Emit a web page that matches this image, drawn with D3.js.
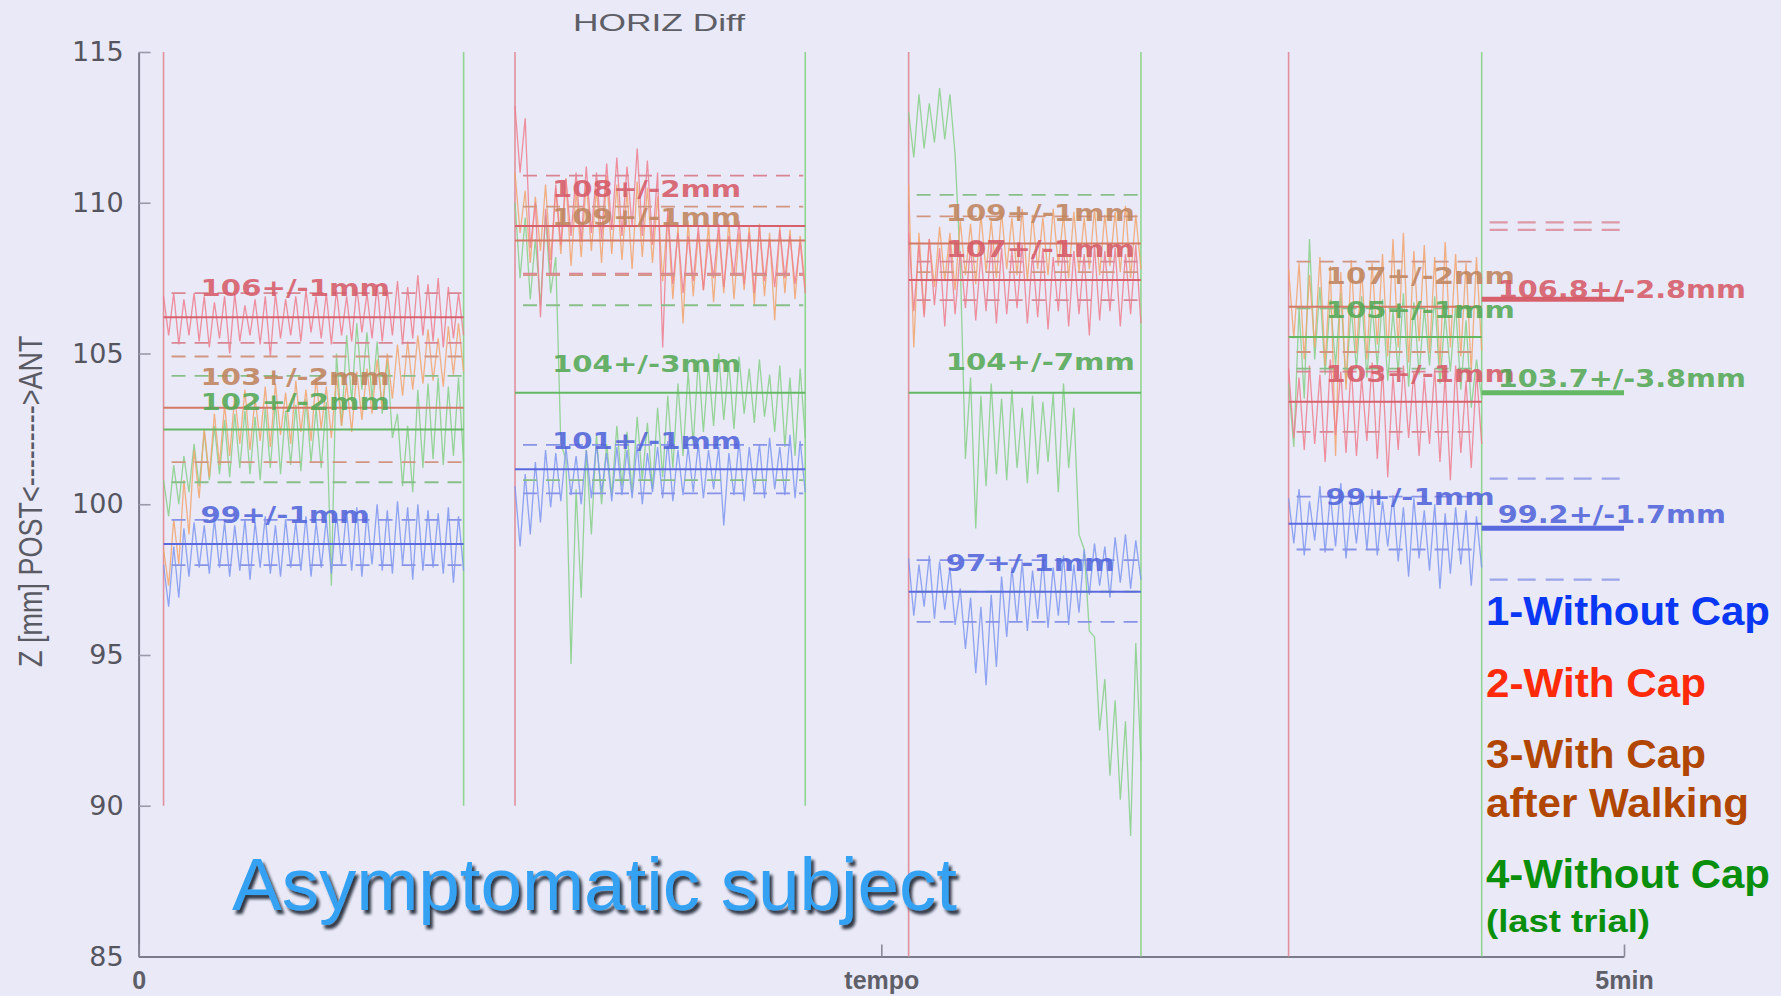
<!DOCTYPE html>
<html>
<head>
<meta charset="utf-8">
<script src="https://cdn.jsdelivr.net/npm/d3@7"></script>
<style>
  html, body { margin: 0; padding: 0; background: #e9e9f8; }
  svg { display: block; }
</style>
</head>
<body>
<svg id="chart" width="1781" height="996"></svg>
<script>
// ---------------- data ----------------
// series order: 0 = 1-Without Cap, 1 = 2-With Cap, 2 = 3-With Cap after Walking, 3 = 4-Without Cap (last trial)
const seriesNames = ["1-Without Cap", "2-With Cap", "3-With Cap after Walking", "4-Without Cap (last trial)"];

const yTickValues = [85, 90, 95, 100, 105, 110, 115];
const xTickValues = [0, 2.5, 5];
const xTickLabels = ["0", "tempo", "5min"];

// trial windows (minutes) and the lower end of each window's marker lines (mm)
const panelStart = [0.084, 1.267, 2.592, 3.871];
const panelEnd   = [1.094, 2.244, 3.374, 4.521];
const panelFloor = [90, 90, 85, 85];

// recorded position, peaks (Hi) and troughs (Lo) of each oscillation, mm
const p1BlueHi = [98.0, 98.6, 99.2, 99.4, 99.3, 99.5, 99.4, 99.3, 99.5, 99.4, 99.6, 99.3, 99.5, 99.4, 99.6, 99.4, 99.5, 99.7, 99.8, 99.9, 99.7, 100.0, 99.8, 100.1, 99.9, 100.0, 99.8, 99.7, 99.9, 99.6];
const p1BlueLo = [96.6, 96.9, 97.6, 97.9, 97.7, 97.9, 97.6, 97.8, 97.5, 97.9, 97.7, 97.6, 97.9, 97.8, 97.6, 97.9, 97.7, 98.0, 97.8, 97.6, 98.0, 97.8, 97.7, 98.0, 97.5, 97.8, 97.9, 97.7, 97.4, 97.8];
const p1RedHi = [106.9, 107.0, 106.8, 107.0, 106.9, 106.7, 106.9, 107.0, 106.6, 106.8, 106.9, 107.0, 106.8, 106.9, 107.1, 106.9, 107.0, 107.1, 106.9, 107.2, 107.0, 107.3, 107.1, 107.4, 107.2, 107.6, 107.3, 107.5, 107.2, 107.0];
const p1RedLo = [105.6, 105.3, 105.6, 105.4, 105.2, 105.5, 105.0, 105.4, 105.6, 105.3, 104.9, 105.5, 105.6, 105.4, 105.7, 105.5, 105.3, 105.6, 105.4, 105.7, 105.5, 105.4, 105.6, 105.3, 105.5, 105.6, 105.4, 105.2, 105.5, 105.6];
const p1OrangeHi = [98.5, 99.5, 100.8, 101.8, 102.5, 103.0, 103.3, 103.6, 103.8, 103.5, 103.9, 104.0, 103.7, 104.1, 103.8, 104.2, 103.9, 104.3, 104.0, 104.4, 104.5, 104.8, 105.0, 105.3, 105.4, 105.6, 105.8, 105.5, 105.9, 106.0];
const p1OrangeLo = [97.3, 98.0, 99.0, 100.2, 100.9, 101.3, 101.6, 102.0, 101.8, 102.1, 101.9, 102.3, 102.0, 102.4, 102.1, 102.5, 102.2, 102.6, 102.4, 102.8, 103.0, 103.2, 103.5, 103.6, 103.8, 104.0, 104.1, 103.9, 104.3, 104.4];
const p1GreenHi = [100.8, 101.3, 101.6, 102.0, 102.4, 102.6, 102.8, 103.0, 103.1, 102.9, 103.2, 103.4, 103.1, 103.3, 103.5, 103.2, 103.4, 105.0, 105.6, 106.0, 105.7, 105.4, 104.8, 103.0, 102.6, 103.8, 104.0, 104.2, 103.9, 104.2];
const p1GreenLo = [99.6, 100.0, 100.4, 100.6, 100.8, 101.0, 100.9, 101.2, 101.0, 100.8, 101.2, 101.0, 101.3, 101.1, 101.4, 101.2, 97.3, 102.6, 103.4, 103.8, 103.5, 103.0, 102.2, 100.6, 100.4, 101.2, 101.5, 101.3, 101.6, 101.4];

const p2BlueHi = [100.6, 101.0, 101.4, 101.8, 101.7, 101.9, 101.6, 101.8, 102.0, 101.7, 101.9, 101.8, 102.0, 101.7, 101.9, 102.1, 101.8, 101.9, 102.0, 101.8, 101.9, 101.7, 102.1, 101.9, 102.0, 102.2, 101.9, 102.3, 102.1];
const p2BlueLo = [98.6, 99.0, 99.4, 99.9, 100.1, 100.3, 100.0, 100.2, 100.4, 100.1, 100.3, 100.2, 100.0, 100.4, 100.2, 100.1, 100.3, 100.4, 100.2, 100.5, 99.3, 100.3, 100.1, 100.4, 100.2, 100.5, 100.3, 100.2, 100.4];
const p2RedHi = [113.2, 112.8, 110.0, 109.8, 110.6, 110.8, 111.0, 111.2, 111.0, 111.3, 111.5, 111.2, 111.8, 111.4, 111.0, 109.8, 109.0, 108.9, 109.2, 108.8, 109.3, 108.9, 109.4, 109.0, 109.2, 108.8, 109.1, 108.9, 108.7];
const p2RedLo = [111.0, 108.5, 106.2, 107.6, 108.6, 108.9, 108.7, 109.0, 108.8, 109.1, 108.9, 109.2, 108.9, 108.6, 105.2, 107.3, 107.0, 107.4, 107.1, 107.5, 107.2, 107.6, 107.3, 107.0, 107.4, 107.2, 107.5, 107.3, 107.0];
const p2OrangeHi = [111.0, 110.4, 110.2, 110.6, 110.5, 110.8, 110.4, 110.7, 110.5, 110.9, 110.6, 110.4, 110.7, 110.5, 110.2, 109.6, 109.2, 109.4, 109.0, 109.3, 109.1, 109.4, 109.0, 109.2, 109.3, 109.0, 109.2, 109.1, 108.9];
const p2OrangeLo = [109.0, 108.0, 108.4, 108.1, 108.3, 107.9, 108.2, 108.4, 108.0, 108.3, 108.1, 107.8, 108.2, 108.0, 107.4, 106.8, 106.0, 106.9, 107.1, 106.7, 107.0, 106.8, 107.1, 106.6, 106.9, 106.1, 107.0, 106.8, 107.2];
const p2GreenHi = [110.0, 109.5, 108.8, 109.6, 108.2, 101.5, 100.5, 101.8, 102.3, 102.0, 102.6, 102.4, 102.9, 102.7, 103.2, 103.6, 104.0, 104.4, 104.8, 104.6, 105.0, 104.7, 104.9, 104.5, 104.8, 104.3, 104.6, 104.2, 104.5];
const p2GreenLo = [107.5, 106.8, 106.6, 107.0, 102.0, 94.7, 96.9, 99.0, 100.0, 100.3, 100.6, 100.4, 100.8, 100.5, 100.9, 101.2, 101.6, 102.0, 102.4, 102.6, 102.8, 102.5, 103.0, 102.7, 102.9, 102.4, 101.9, 101.6, 102.2];

const p3BlueHi = [98.2, 98.0, 98.3, 98.1, 97.9, 97.2, 96.9, 96.6, 97.0, 97.6, 97.9, 98.1, 97.8, 98.2, 97.9, 98.3, 98.0, 98.5, 98.7, 98.6, 98.9, 99.0, 98.8];
const p3BlueLo = [96.3, 96.6, 96.2, 96.5, 96.0, 95.2, 94.4, 94.0, 94.6, 95.6, 96.1, 95.8, 96.2, 95.9, 96.3, 96.0, 96.4, 97.0, 97.3, 96.9, 97.4, 97.2, 97.5];
const p3RedHi = [109.0, 108.6, 108.8, 108.5, 108.7, 108.4, 108.6, 108.3, 108.7, 108.5, 108.4, 108.6, 108.3, 108.5, 108.2, 108.6, 108.4, 108.3, 108.6, 108.4, 108.5, 108.3, 108.6];
const p3RedLo = [106.4, 106.2, 106.6, 105.9, 106.3, 106.5, 106.1, 106.4, 106.0, 106.3, 106.5, 106.0, 106.2, 105.8, 106.4, 105.9, 106.3, 105.6, 106.1, 106.4, 105.9, 106.3, 106.0];
const p3OrangeHi = [110.6, 109.0, 108.8, 109.2, 109.0, 109.4, 109.3, 109.6, 109.4, 109.7, 109.5, 109.8, 109.6, 109.5, 109.8, 109.6, 109.7, 109.5, 109.8, 109.6, 109.7, 109.9, 109.6];
const p3OrangeLo = [105.2, 106.3, 107.2, 107.4, 107.1, 107.6, 107.3, 107.7, 107.5, 107.8, 107.6, 107.4, 107.8, 107.6, 107.9, 107.5, 107.7, 107.8, 107.6, 107.9, 107.7, 107.5, 107.8];
const p3GreenHi = [113.0, 113.6, 113.3, 113.8, 113.6, 108.0, 104.2, 103.6, 104.0, 103.5, 103.8, 103.2, 103.6, 103.4, 103.7, 104.0, 103.2, 98.5, 95.6, 94.2, 93.5, 92.8, 95.4];
const p3GreenLo = [111.5, 111.8, 112.0, 112.1, 111.6, 101.5, 99.2, 100.6, 101.0, 100.8, 101.2, 100.7, 101.0, 101.4, 100.4, 101.2, 99.0, 95.8, 92.5, 91.0, 90.2, 89.0, 91.5];

const p4BlueHi = [100.2, 100.5, 100.1, 100.6, 100.3, 100.7, 100.2, 100.4, 100.5, 100.1, 100.3, 99.9, 100.2, 99.8, 100.0, 99.7, 99.9, 99.8, 99.6];
const p4BlueLo = [98.7, 98.3, 98.8, 98.4, 98.6, 98.2, 98.7, 98.5, 98.3, 98.6, 98.1, 97.6, 98.2, 97.8, 97.2, 97.7, 98.0, 97.3, 97.9];
const p4RedHi = [104.5, 104.2, 104.6, 104.3, 104.8, 104.4, 104.6, 104.2, 104.7, 104.5, 104.3, 104.6, 104.4, 104.2, 104.5, 104.3, 104.6, 104.1, 104.4];
const p4RedLo = [102.2, 101.8, 102.0, 101.4, 102.3, 101.7, 101.6, 102.1, 101.5, 100.9, 101.8, 102.2, 101.6, 102.0, 101.4, 100.8, 101.7, 101.2, 102.0];
const p4OrangeHi = [107.8, 108.0, 107.6, 108.2, 107.9, 107.7, 108.1, 107.8, 108.0, 108.3, 108.8, 109.0, 108.4, 108.6, 108.2, 108.7, 108.3, 108.0, 108.2];
const p4OrangeLo = [105.5, 104.8, 105.2, 104.6, 101.6, 103.8, 105.0, 104.8, 105.3, 104.9, 105.2, 104.7, 105.4, 105.0, 104.6, 105.2, 104.9, 104.4, 105.1];
const p4GreenHi = [104.0, 106.5, 108.8, 107.2, 106.8, 107.0, 106.5, 106.9, 106.6, 106.8, 106.4, 107.0, 106.7, 106.5, 106.9, 106.3, 106.6, 106.1, 104.8];
const p4GreenLo = [101.9, 103.5, 104.8, 104.3, 104.6, 104.0, 104.5, 104.2, 104.6, 104.1, 104.4, 103.9, 104.3, 104.6, 104.0, 104.4, 103.8, 103.2, 103.5];

// trial means and the dashed spread levels (mm), order: blue, red, orange, green
const meanP1 = [98.68, 106.2, 103.2, 102.48];
const upperP1 = [99.48, 107.0, 104.9, 104.26];
const lowerP1 = [97.98, 105.35, 101.4, 100.73];
const meanP2 = [101.16, 109.23, 108.75, 103.7];
const upperP2 = [101.97, 110.9, 109.87, 106.6];
const lowerP2 = [100.36, 107.65, 107.6, 100.8];
const meanP3 = [97.1, 107.44, 108.65, 103.7];
const upperP3 = [98.15, 108.05, 109.55, 110.26];
const lowerP3 = [96.1, 106.77, 107.7, 97.1];
const meanP4 = [99.35, 103.4, 106.55, 105.55];
const upperP4 = [100.25, 104.4, 108.05, 106.5];
const lowerP4 = [98.5, 102.4, 105.05, 104.5];

// annotation text and the level (mm) of its baseline
const labelsP1 = ["99+/-1mm", "106+/-1mm", "103+/-2mm", "102+/-2mm"];
const labelLevelP1 = [99.39, 106.91, 103.96, 103.13];
const labelsP2 = ["101+/-1mm", "108+/-2mm", "109+/-1mm", "104+/-3mm"];
const labelLevelP2 = [101.83, 110.19, 109.26, 104.39];
const labelsP3 = ["97+/-1mm", "107+/-1mm", "109+/-1mm", "104+/-7mm"];
const labelLevelP3 = [97.77, 108.2, 109.41, 104.44];
const labelsP4 = ["99+/-1mm", "103+/-1mm", "107+/-2mm", "105+/-1mm"];
const labelLevelP4 = [99.98, 104.05, 107.32, 106.18];

// overall summary (series 1, 2, 4)
const summarySeries = [0, 1, 3];
const summaryMean = [99.2, 106.8, 103.7];
const summaryLabels = ["99.2+/-1.7mm", "106.8+/-2.8mm", "103.7+/-3.8mm"];
const summaryLabelLevel = [99.38, 106.84, 103.9];
const summaryDashLevel = [109.35, 109.1, 100.85, 97.5];
const summaryDashSeries = [1, 1, 0, 0];

// legend
const legendLines = [["1-Without Cap"], ["2-With Cap"], ["3-With Cap", "after Walking"], ["4-Without Cap", "(last trial)"]];

// ---------------- drawing ----------------
const svg = d3.select("#chart");
const x = d3.scaleLinear().domain([0, 5]).range([138.6, 1624]);
const y = d3.scaleLinear().domain([85, 115]).range([956.5, 52]);

const traceColor = ["#7c95f0", "#ee7e8d", "#f2a56c", "#86cf86"];
const meanColor  = ["#5a6ade", "#d6606c", "#d27a66", "#64b864"];
const dashColor  = ["#8793e6", "#d98592", "#d29680", "#88be88"];
const labelColor = ["#5164da", "#d65b67", "#c0845c", "#55a855"];
const legendColor = ["#0a37f3", "#ff2a0a", "#b04600", "#0a8f0c"];

const panels = [
  { hi: [p1BlueHi, p1RedHi, p1OrangeHi, p1GreenHi], lo: [p1BlueLo, p1RedLo, p1OrangeLo, p1GreenLo],
    mean: meanP1, up: upperP1, dn: lowerP1, labels: labelsP1, labelLevel: labelLevelP1 },
  { hi: [p2BlueHi, p2RedHi, p2OrangeHi, p2GreenHi], lo: [p2BlueLo, p2RedLo, p2OrangeLo, p2GreenLo],
    mean: meanP2, up: upperP2, dn: lowerP2, labels: labelsP2, labelLevel: labelLevelP2 },
  { hi: [p3BlueHi, p3RedHi, p3OrangeHi, p3GreenHi], lo: [p3BlueLo, p3RedLo, p3OrangeLo, p3GreenLo],
    mean: meanP3, up: upperP3, dn: lowerP3, labels: labelsP3, labelLevel: labelLevelP3 },
  { hi: [p4BlueHi, p4RedHi, p4OrangeHi, p4GreenHi], lo: [p4BlueLo, p4RedLo, p4OrangeLo, p4GreenLo],
    mean: meanP4, up: upperP4, dn: lowerP4, labels: labelsP4, labelLevel: labelLevelP4 }
].map((p, i) => Object.assign(p, { start: panelStart[i], end: panelEnd[i], floor: panelFloor[i] }));

const defs = svg.append("defs");
defs.append("filter").attr("id", "titleShadow")
  .attr("x", "-5%").attr("y", "-30%").attr("width", "112%").attr("height", "170%")
  .append("feDropShadow")
  .attr("dx", 3).attr("dy", 4).attr("stdDeviation", 1.6)
  .attr("flood-color", "#0d1526").attr("flood-opacity", 0.85);

svg.append("rect").attr("width", 1781).attr("height", 996).attr("fill", "#e9e9f8");

// axes
const gy = svg.append("g")
  .attr("transform", `translate(${x(0)},0)`)
  .call(d3.axisLeft(y).tickValues(yTickValues).tickSizeInner(-12).tickSizeOuter(0).tickPadding(15));
gy.attr("font-family", "'DejaVu Sans', sans-serif").attr("font-size", 27);
gy.select(".domain").attr("stroke", "#7b7b8b").attr("stroke-width", 2);
gy.selectAll(".tick line").attr("stroke", "#9a9aab").attr("stroke-width", 1.6);
gy.selectAll(".tick text").attr("fill", "#55555f");

const gx = svg.append("g")
  .attr("transform", `translate(0,${y(85)})`)
  .call(d3.axisBottom(x).tickValues(xTickValues).tickFormat((d, i) => xTickLabels[i])
    .tickSizeInner(-12).tickSizeOuter(0).tickPadding(15));
gx.attr("font-family", "'Liberation Sans', Arial, sans-serif").attr("font-size", 25).attr("font-weight", "bold");
gx.select(".domain").attr("stroke", "#7b7b8b").attr("stroke-width", 2);
gx.selectAll(".tick line").attr("stroke", "#8a8a9b").attr("stroke-width", 1.6);
gx.selectAll(".tick text").attr("fill", "#5f5f69");

// axis title and chart title
svg.append("text")
  .attr("transform", `translate(31,${y(100.1)}) rotate(-90) scale(1,1.2)`)
  .attr("text-anchor", "middle").attr("dy", "0.35em")
  .attr("font-family", "'Liberation Sans', Arial, sans-serif").attr("font-size", 27)
  .attr("fill", "#5a5a64")
  .text("Z [mm] POST<--------->ANT");

svg.append("text")
  .attr("x", 659).attr("y", 31).attr("text-anchor", "middle")
  .attr("font-family", "'Liberation Sans', Arial, sans-serif").attr("font-size", 24)
  .attr("textLength", 172).attr("lengthAdjust", "spacingAndGlyphs")
  .attr("fill", "#5e5e66")
  .text("HORIZ Diff");

const plot = svg.append("g");
const line = d3.line();
const drawOrder = [3, 2, 1, 0];

panels.forEach(p => {
  // trial boundary markers
  plot.append("line")
    .attr("x1", x(p.start)).attr("x2", x(p.start)).attr("y1", y(115)).attr("y2", y(p.floor))
    .attr("stroke", "#e0919c").attr("stroke-width", 1.6);
  plot.append("line")
    .attr("x1", x(p.end)).attr("x2", x(p.end)).attr("y1", y(115)).attr("y2", y(p.floor))
    .attr("stroke", "#90d690").attr("stroke-width", 1.6);

  // oscillating traces
  drawOrder.forEach(s => {
    const pts = [];
    p.hi[s].forEach((h, i) => { pts.push(h); pts.push(p.lo[s][i]); });
    const t = d3.scaleLinear().domain([0, pts.length - 1]).range([p.start, p.end]);
    plot.append("path")
      .attr("d", line.x((d, i) => x(t(i))).y(d => y(d))(pts))
      .attr("fill", "none").attr("stroke", traceColor[s])
      .attr("stroke-width", 1.3).attr("stroke-opacity", 0.85);
  });

  // spread (dashed) and mean (solid) levels
  drawOrder.forEach(s => {
    [p.up[s], p.dn[s]].forEach(v => {
      plot.append("line")
        .attr("x1", x(p.start) + 8).attr("x2", x(p.end) - 2)
        .attr("y1", y(v)).attr("y2", y(v))
        .attr("stroke", dashColor[s]).attr("stroke-width", 1.8)
        .attr("stroke-dasharray", "14,9");
    });
    plot.append("line")
      .attr("x1", x(p.start)).attr("x2", x(p.end))
      .attr("y1", y(p.mean[s])).attr("y2", y(p.mean[s]))
      .attr("stroke", meanColor[s]).attr("stroke-width", 2);
  });

  // value annotations
  drawOrder.forEach(s => {
    plot.append("text")
      .attr("transform", `translate(${x(p.start) + 37},${y(p.labelLevel[s])}) scale(1.27,1)`)
      .attr("font-family", "'DejaVu Sans', sans-serif").attr("font-weight", "bold")
      .attr("font-size", 23).attr("fill", labelColor[s]).attr("fill-opacity", 0.88)
      .text(p.labels[s]);
  });
});

// summary block
const sumStart = panelEnd[3], sumEnd = 5;
summaryDashLevel.forEach((v, i) => {
  plot.append("line")
    .attr("x1", x(sumStart) + 8).attr("x2", x(sumEnd) - 2)
    .attr("y1", y(v)).attr("y2", y(v))
    .attr("stroke", dashColor[summaryDashSeries[i]]).attr("stroke-width", 2.4)
    .attr("stroke-dasharray", "18,10").attr("stroke-opacity", 0.8);
});
summaryMean.forEach((v, i) => {
  const s = summarySeries[i];
  plot.append("line")
    .attr("x1", x(sumStart)).attr("x2", x(sumEnd))
    .attr("y1", y(v)).attr("y2", y(v))
    .attr("stroke", meanColor[s]).attr("stroke-width", 5);
  plot.append("text")
    .attr("transform", `translate(${x(sumStart) + 16},${y(summaryLabelLevel[i])}) scale(1.15,1)`)
    .attr("font-family", "'DejaVu Sans', sans-serif").attr("font-weight", "bold")
    .attr("font-size", 25).attr("fill", labelColor[s]).attr("fill-opacity", 0.9)
    .text(summaryLabels[i]);
});

// legend
const legendBaselines = [[625], [697], [768, 817], [888, 932]];
const legendWidths = [[284], [220], [220, 263], [284, 164]];
const legendSizes = [[40], [40], [40, 40], [40, 31]];
const leg = svg.append("g").attr("font-family", "'Liberation Sans', Arial, sans-serif").attr("font-weight", "bold");
legendLines.forEach((lines, s) => {
  lines.forEach((txt, j) => {
    leg.append("text")
      .attr("x", 1486).attr("y", legendBaselines[s][j])
      .attr("font-size", legendSizes[s][j])
      .attr("textLength", legendWidths[s][j]).attr("lengthAdjust", "spacingAndGlyphs")
      .attr("fill", legendColor[s])
      .text(txt);
  });
});

// subject caption
svg.append("text")
  .attr("x", 232).attr("y", 910)
  .attr("font-family", "'Liberation Sans', Arial, sans-serif").attr("font-size", 75)
  .attr("textLength", 725).attr("lengthAdjust", "spacingAndGlyphs")
  .attr("fill", "#35a1f3").attr("filter", "url(#titleShadow)")
  .text("Asymptomatic subject");
</script>
</body>
</html>
